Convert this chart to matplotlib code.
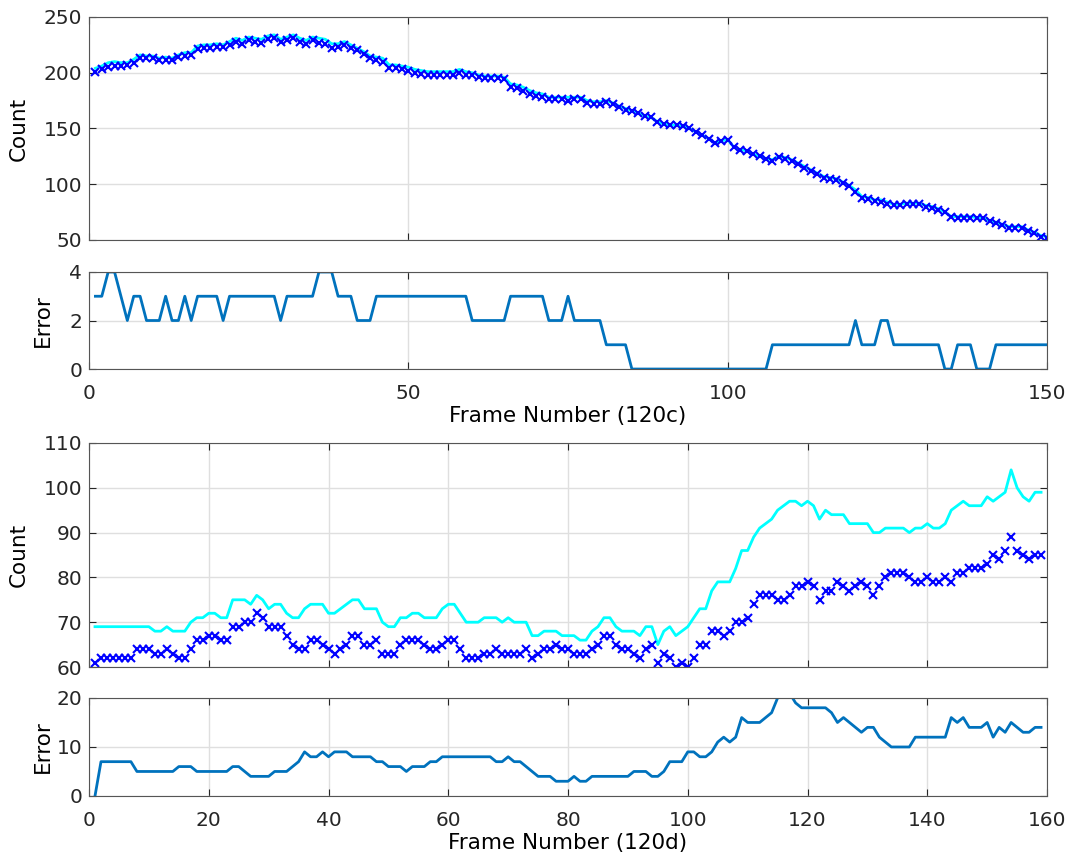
import numpy as np
import matplotlib
matplotlib.use('Agg')
import matplotlib.pyplot as plt

plt.rcParams['font.family'] = ['DejaVu Sans']

# clip 120c: ground truth (cyan), estimate (x markers), error
gt_c = [204, 206, 209, 210, 209, 209, 212, 216, 215, 215,
        213, 214, 213, 216, 218, 218, 224, 225, 225, 226,
        225, 228, 231, 229, 232, 231, 230, 233, 234, 230,
        232, 234, 231, 229, 232, 231, 230, 226, 226, 228,
        225, 222, 219, 215, 214, 213, 207, 207, 206, 205,
        203, 202, 201, 201, 201, 201, 201, 203, 201, 200,
        198, 197, 197, 197, 196, 190, 189, 187, 184, 182,
        181, 178, 178, 178, 178, 178, 178, 175, 174, 174,
        175, 173, 170, 168, 166, 164, 161, 160, 156, 154,
        153, 153, 152, 150, 147, 144, 141, 137, 139, 140,
        133, 131, 130, 127, 125, 123, 122, 125, 124, 122,
        119, 116, 113, 110, 107, 106, 105, 102, 99, 95,
        89, 88, 86, 86, 84, 82, 82, 83, 83, 83,
        81, 80, 78, 75, 71, 71, 71, 71, 70, 70,
        67, 66, 64, 62, 62, 62, 59, 57, 54, 53]
est_c = [201, 203, 205, 206, 206, 207, 209, 213, 213, 213,
         211, 211, 211, 214, 215, 216, 221, 222, 222, 223,
         223, 225, 228, 226, 229, 228, 227, 230, 231, 228,
         229, 231, 228, 226, 229, 227, 226, 222, 223, 225,
         222, 220, 217, 213, 211, 210, 204, 204, 203, 202,
         200, 199, 198, 198, 198, 198, 198, 200, 198, 198,
         196, 195, 195, 195, 194, 187, 186, 184, 181, 179,
         178, 176, 176, 176, 175, 176, 176, 173, 172, 172,
         174, 172, 169, 167, 166, 164, 161, 160, 156, 154,
         153, 153, 152, 150, 147, 144, 141, 137, 139, 140,
         133, 131, 130, 127, 125, 123, 121, 124, 123, 121,
         118, 115, 112, 109, 106, 105, 104, 101, 98, 93,
         88, 87, 85, 84, 82, 81, 81, 82, 82, 82,
         80, 79, 77, 75, 71, 70, 70, 70, 70, 70,
         67, 65, 63, 61, 61, 61, 58, 56, 53, 52]
err_c = [3, 3, 4, 4, 3, 2, 3, 3, 2, 2,
         2, 3, 2, 2, 3, 2, 3, 3, 3, 3,
         2, 3, 3, 3, 3, 3, 3, 3, 3, 2,
         3, 3, 3, 3, 3, 4, 4, 4, 3, 3,
         3, 2, 2, 2, 3, 3, 3, 3, 3, 3,
         3, 3, 3, 3, 3, 3, 3, 3, 3, 2,
         2, 2, 2, 2, 2, 3, 3, 3, 3, 3,
         3, 2, 2, 2, 3, 2, 2, 2, 2, 2,
         1, 1, 1, 1, 0, 0, 0, 0, 0, 0,
         0, 0, 0, 0, 0, 0, 0, 0, 0, 0,
         0, 0, 0, 0, 0, 0, 1, 1, 1, 1,
         1, 1, 1, 1, 1, 1, 1, 1, 1, 2,
         1, 1, 1, 2, 2, 1, 1, 1, 1, 1,
         1, 1, 1, 0, 0, 1, 1, 1, 0, 0,
         0, 1, 1, 1, 1, 1, 1, 1, 1, 1]

# clip 120d
gt_d = [69, 69, 69, 69, 69, 69, 69, 69, 69, 69,
        68, 68, 69, 68, 68, 68, 70, 71, 71, 72,
        72, 71, 71, 75, 75, 75, 74, 76, 75, 73,
        74, 74, 72, 71, 71, 73, 74, 74, 74, 72,
        72, 73, 74, 75, 75, 73, 73, 73, 70, 69,
        69, 71, 71, 72, 72, 71, 71, 71, 73, 74,
        74, 72, 70, 70, 70, 71, 71, 71, 70, 71,
        70, 70, 70, 67, 67, 68, 68, 68, 67, 67,
        67, 66, 66, 68, 69, 71, 71, 69, 68, 68,
        68, 67, 69, 69, 65, 68, 69, 67, 68, 69,
        71, 73, 73, 77, 79, 79, 79, 82, 86, 86,
        89, 91, 92, 93, 95, 96, 97, 97, 96, 97,
        96, 93, 95, 94, 94, 94, 92, 92, 92, 92,
        90, 90, 91, 91, 91, 91, 90, 91, 91, 92,
        91, 91, 92, 95, 96, 97, 96, 96, 96, 98,
        97, 98, 99, 104, 100, 98, 97, 99, 99]
est_d = [61, 62, 62, 62, 62, 62, 62, 64, 64, 64,
         63, 63, 64, 63, 62, 62, 64, 66, 66, 67,
         67, 66, 66, 69, 69, 70, 70, 72, 71, 69,
         69, 69, 67, 65, 64, 64, 66, 66, 65, 64,
         63, 64, 65, 67, 67, 65, 65, 66, 63, 63,
         63, 65, 66, 66, 66, 65, 64, 64, 65, 66,
         66, 64, 62, 62, 62, 63, 63, 64, 63, 63,
         63, 63, 64, 62, 63, 64, 64, 65, 64, 64,
         63, 63, 63, 64, 65, 67, 67, 65, 64, 64,
         63, 62, 64, 65, 61, 63, 62, 60, 61, 60,
         62, 65, 65, 68, 68, 67, 68, 70, 70, 71,
         74, 76, 76, 76, 75, 75, 76, 78, 78, 79,
         78, 75, 77, 77, 79, 78, 77, 78, 79, 78,
         76, 78, 80, 81, 81, 81, 80, 79, 79, 80,
         79, 79, 80, 79, 81, 81, 82, 82, 82, 83,
         85, 84, 86, 89, 86, 85, 84, 85, 85]
err_d = [0, 7, 7, 7, 7, 7, 7, 5, 5, 5,
         5, 5, 5, 5, 6, 6, 6, 5, 5, 5,
         5, 5, 5, 6, 6, 5, 4, 4, 4, 4,
         5, 5, 5, 6, 7, 9, 8, 8, 9, 8,
         9, 9, 9, 8, 8, 8, 8, 7, 7, 6,
         6, 6, 5, 6, 6, 6, 7, 7, 8, 8,
         8, 8, 8, 8, 8, 8, 8, 7, 7, 8,
         7, 7, 6, 5, 4, 4, 4, 3, 3, 3,
         4, 3, 3, 4, 4, 4, 4, 4, 4, 4,
         5, 5, 5, 4, 4, 5, 7, 7, 7, 9,
         9, 8, 8, 9, 11, 12, 11, 12, 16, 15,
         15, 15, 16, 17, 20, 21, 21, 19, 18, 18,
         18, 18, 18, 17, 15, 16, 15, 14, 13, 14,
         14, 12, 11, 10, 10, 10, 10, 12, 12, 12,
         12, 12, 12, 16, 15, 16, 14, 14, 14, 15,
         12, 14, 13, 15, 14, 13, 13, 14, 14]

fr_c = np.arange(1, len(gt_c) + 1)
fr_d = np.arange(1, len(gt_d) + 1)

fig = plt.figure(figsize=(10.75, 8.58), dpi=100)
L, W = 0.0828, 0.8912
ax1 = fig.add_axes([L, 0.7203, W, 0.2599])
ax2 = fig.add_axes([L, 0.5699, W, 0.1131])
ax3 = fig.add_axes([L, 0.2226, W, 0.2611])
ax4 = fig.add_axes([L, 0.0723, W, 0.1142])

cyan = '#00FFFF'
mblue = '#0000FF'
ecol = '#0072BD'

ax1.plot(fr_c, gt_c, color=cyan, lw=2)
ax1.plot(fr_c, est_c, 'x', color=mblue, ms=5.5, mew=1.5)
ax2.plot(fr_c, err_c, color=ecol, lw=2)
ax3.plot(fr_d, gt_d, color=cyan, lw=2)
ax3.plot(fr_d, est_d, 'x', color=mblue, ms=5.5, mew=1.5)
ax4.plot(fr_d, err_d, color=ecol, lw=2)

ax1.set_xlim(0, 150); ax1.set_ylim(50, 250)
ax1.set_xticks([0, 50, 100, 150]); ax1.set_xticklabels([])
ax1.set_yticks([50, 100, 150, 200, 250])
ax1.set_ylabel('Count')

ax2.set_xlim(0, 150); ax2.set_ylim(0, 4)
ax2.set_xticks([0, 50, 100, 150]); ax2.set_yticks([0, 2, 4])
ax2.set_ylabel('Error')
ax2.set_xlabel('Frame Number (120c)')

ax3.set_xlim(0, 160); ax3.set_ylim(60, 110)
ax3.set_xticks(range(0, 161, 20)); ax3.set_xticklabels([])
ax3.set_yticks([60, 70, 80, 90, 100, 110])
ax3.set_ylabel('Count')

ax4.set_xlim(0, 160); ax4.set_ylim(0, 20)
ax4.set_xticks(range(0, 161, 20)); ax4.set_yticks([0, 10, 20])
ax4.set_ylabel('Error')
ax4.set_xlabel('Frame Number (120d)')

for ax in (ax1, ax2, ax3, ax4):
    ax.grid(True, color='#DFDFDF', lw=1)
    ax.set_axisbelow(True)
    ax.tick_params(direction='in', top=True, right=True, labelsize=14.5,
                   colors='#262626', length=5)
    ax.tick_params(axis='x', pad=11)
    ax.tick_params(axis='y', pad=5)
    for s in ax.spines.values():
        s.set_color('#555555')
    ax.yaxis.label.set_size(15.5)
    ax.xaxis.label.set_size(15.5)
    ax.xaxis.labelpad = 2

ax1.yaxis.set_label_coords(-0.063, 0.5)
ax3.yaxis.set_label_coords(-0.063, 0.5)
ax2.yaxis.set_label_coords(-0.038, 0.5)
ax4.yaxis.set_label_coords(-0.038, 0.5)

plt.savefig('out.png', dpi=100)
